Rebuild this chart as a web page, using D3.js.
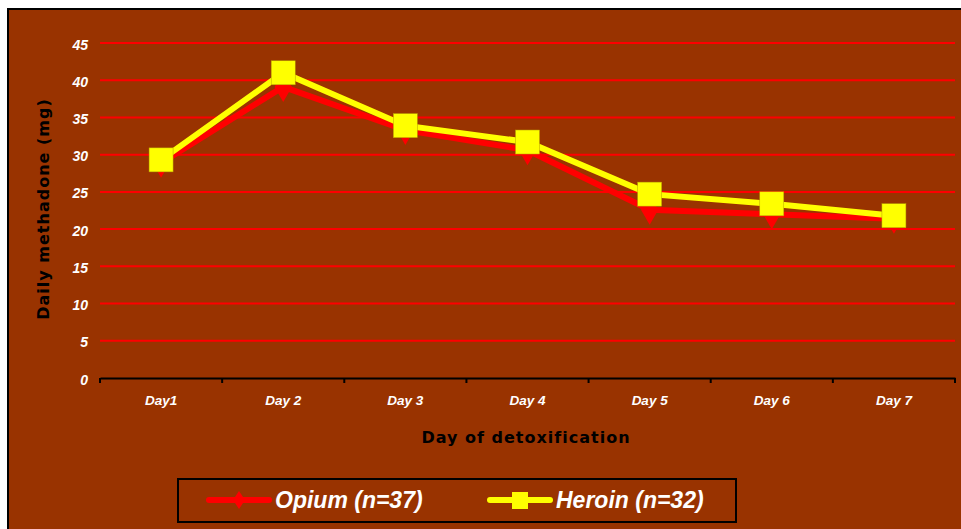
<!DOCTYPE html>
<html>
<head>
<meta charset="utf-8">
<script src="https://cdn.jsdelivr.net/npm/d3@7"></script>
<style>
  body { margin: 0; background: #fff; }
</style>
</head>
<body>
<div id="chart"></div>
<script>
var days = ["Day1", "Day 2", "Day 3", "Day 4", "Day 5", "Day 6", "Day 7"];
var opium = [28.9, 39.1, 33.3, 30.6, 22.6, 22.0, 21.4];
var heroin = [29.3, 41.0, 33.9, 31.7, 24.7, 23.4, 21.8];
var yTicks = [0, 5, 10, 15, 20, 25, 30, 35, 40, 45];

var width = 961,
    height = 529;

var svg = d3.select("#chart").append("svg")
    .attr("width", width)
    .attr("height", height);

// frame
svg.append("rect")
    .attr("x", 8).attr("y", 9)
    .attr("width", width + 10).attr("height", height + 10)
    .style("fill", "#993300")
    .style("stroke", "#000")
    .style("stroke-width", 2);

var x = d3.scaleBand()
    .domain(days)
    .range([100, 955]);

var y = d3.scaleLinear()
    .domain([0, 45])
    .range([378, 43]);

// gridlines
svg.append("g")
    .selectAll("line")
    .data(yTicks.filter(function(d) { return d > 0; }))
    .enter().append("line")
    .attr("x1", 100).attr("x2", 955)
    .attr("y1", function(d) { return y(d); })
    .attr("y2", function(d) { return y(d); })
    .style("stroke", "#ff0000")
    .style("stroke-width", 2);

// y tick labels
svg.append("g")
    .selectAll("text")
    .data(yTicks)
    .enter().append("text")
    .attr("x", 88)
    .attr("y", function(d) { return y(d) + 6.5; })
    .attr("text-anchor", "end")
    .style("font", "italic bold 14px Arial, 'Liberation Sans', sans-serif")
    .style("fill", "#fff")
    .text(function(d) { return d; });

// x axis
var xAxis = svg.append("g")
    .attr("transform", "translate(0,378)")
    .call(d3.axisBottom(x).tickSize(0).tickFormat(""));
xAxis.select(".domain").style("stroke", "#000").style("stroke-width", 2);
xAxis.selectAll(".tick").remove();

svg.append("g")
    .selectAll("line")
    .data(days.map(function(d) { return x(d); }).concat([955]))
    .enter().append("line")
    .attr("x1", function(d) { return d; })
    .attr("x2", function(d) { return d; })
    .attr("y1", 378).attr("y2", 383)
    .style("stroke", "#000")
    .style("stroke-width", 2);

svg.append("g")
    .selectAll("text")
    .data(days)
    .enter().append("text")
    .attr("x", function(d) { return x(d) + x.bandwidth() / 2; })
    .attr("y", 405)
    .attr("text-anchor", "middle")
    .style("font", "italic bold 13.5px Arial, 'Liberation Sans', sans-serif")
    .style("fill", "#fff")
    .text(function(d) { return d; });

// axis titles
svg.append("text")
    .attr("x", 526).attr("y", 443)
    .attr("text-anchor", "middle")
    .style("font", "bold 16px 'DejaVu Sans', sans-serif")
    .style("letter-spacing", "1px")
    .style("fill", "#000")
    .text("Day of detoxification");

svg.append("text")
    .attr("transform", "translate(49,209) rotate(-90)")
    .attr("text-anchor", "middle")
    .style("font", "bold 16px 'DejaVu Sans', sans-serif")
    .style("letter-spacing", "1px")
    .style("fill", "#000")
    .text("Daily methadone (mg)");

var line = d3.line()
    .x(function(d, i) { return x(days[i]) + x.bandwidth() / 2; })
    .y(function(d) { return y(d); });

var diamond = d3.symbol().type(d3.symbolDiamond).size(260);

// opium series
svg.append("path")
    .datum(opium)
    .attr("d", line)
    .style("fill", "none")
    .style("stroke", "#ff0000")
    .style("stroke-width", 6);

svg.append("g")
    .selectAll("path")
    .data(opium)
    .enter().append("path")
    .attr("d", diamond)
    .attr("transform", function(d, i) {
        return "translate(" + (x(days[i]) + x.bandwidth() / 2) + "," + y(d) + ")";
    })
    .style("fill", "#ff0000");

// heroin series
svg.append("path")
    .datum(heroin)
    .attr("d", line)
    .style("fill", "none")
    .style("stroke", "#ffff00")
    .style("stroke-width", 6);

svg.append("g")
    .selectAll("rect")
    .data(heroin)
    .enter().append("rect")
    .attr("x", function(d, i) { return x(days[i]) + x.bandwidth() / 2 - 12; })
    .attr("y", function(d) { return y(d) - 12; })
    .attr("width", 24)
    .attr("height", 24)
    .style("fill", "#ffff00")
    .style("stroke", "#b8a000")
    .style("stroke-width", 0.5);

// legend
var legend = svg.append("g");
legend.append("rect")
    .attr("x", 178).attr("y", 479)
    .attr("width", 558).attr("height", 43)
    .style("fill", "none")
    .style("stroke", "#000")
    .style("stroke-width", 2);

var legendItems = [
    { name: "Opium (n=37)", color: "#ff0000", x0: 209, shape: "diamond" },
    { name: "Heroin (n=32)", color: "#ffff00", x0: 490, shape: "square" }
];

legendItems.forEach(function(it) {
    legend.append("line")
        .attr("x1", it.x0).attr("x2", it.x0 + 60)
        .attr("y1", 500).attr("y2", 500)
        .style("stroke", it.color)
        .style("stroke-width", 6)
        .style("stroke-linecap", "round");
    if (it.shape === "diamond") {
        legend.append("path")
            .attr("d", "M0,-9L6,0L0,9L-6,0Z")
            .attr("transform", "translate(" + (it.x0 + 30) + ",500)")
            .style("fill", it.color);
    } else {
        legend.append("rect")
            .attr("x", it.x0 + 22).attr("y", 492)
            .attr("width", 16).attr("height", 17)
            .style("fill", it.color);
    }
    legend.append("text")
        .attr("x", it.x0 + 66).attr("y", 508)
        .style("font", "italic bold 23px Arial, 'Liberation Sans', sans-serif")
        .style("fill", "#fff")
        .text(it.name);
});
</script>
</body>
</html>
